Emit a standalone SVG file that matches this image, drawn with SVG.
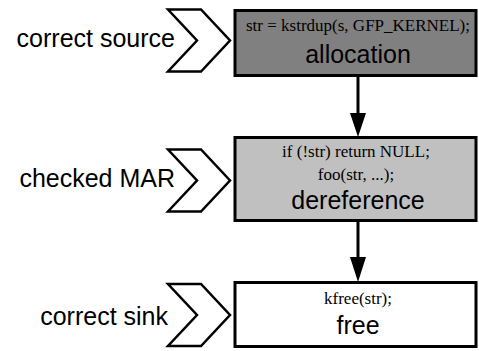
<svg xmlns="http://www.w3.org/2000/svg" width="479" height="351" viewBox="0 0 479 351">
<style>
.box{stroke:#000;stroke-width:3}
.chev{fill:#fff;stroke:#000;stroke-width:2.5;stroke-linejoin:miter}
.lbl{font-family:"Liberation Sans",Arial,sans-serif;font-size:25px;fill:#000;text-anchor:end}
.code{font-family:"Liberation Serif","Times New Roman",serif;font-size:17px;fill:#000;text-anchor:middle}
.name{font-family:"Liberation Sans",Arial,sans-serif;font-size:25px;fill:#000;text-anchor:middle}
.conn{stroke:#000;stroke-width:3;fill:none}
</style>
<defs>
<path id="chevron" d="M0,-31 H33 L62,0 L33,31 H0 L29,0 Z"/>
</defs>
<rect width="479" height="351" fill="#fff"/>
<g id="allocation">
<use href="#chevron" class="chev" x="168" y="40.5"/>
<text class="lbl" x="175" y="47">correct source</text>
<rect class="box" x="235" y="10.5" width="241" height="65" fill="#808080"/>
<text class="code" x="358" y="31">str = kstrdup(s, GFP_KERNEL);</text>
<text class="name" x="358" y="63">allocation</text>
</g>
<g id="dereference">
<use href="#chevron" class="chev" x="168" y="180.5"/>
<text class="lbl" x="175" y="187">checked MAR</text>
<rect class="box" x="235" y="137.5" width="241" height="83" fill="#c0c0c0"/>
<text class="code" x="356" y="157">if (!str) return NULL;</text>
<text class="code" x="356" y="180">foo(str, ...);</text>
<text class="name" x="358" y="209">dereference</text>
</g>
<g id="free">
<use href="#chevron" class="chev" x="168" y="315"/>
<text class="lbl" x="168" y="325">correct sink</text>
<rect class="box" x="235" y="282.5" width="241" height="64" fill="#fff"/>
<text class="code" x="358" y="304">kfree(str);</text>
<text class="name" x="358" y="334">free</text>
</g>
<g id="connectors">
<line class="conn" x1="358" y1="76" x2="358" y2="114"/>
<polygon points="350,113 366,113 358,137" fill="#000"/>
<line class="conn" x1="358" y1="221" x2="358" y2="258"/>
<polygon points="350,257 366,257 358,282" fill="#000"/>
</g>
</svg>
